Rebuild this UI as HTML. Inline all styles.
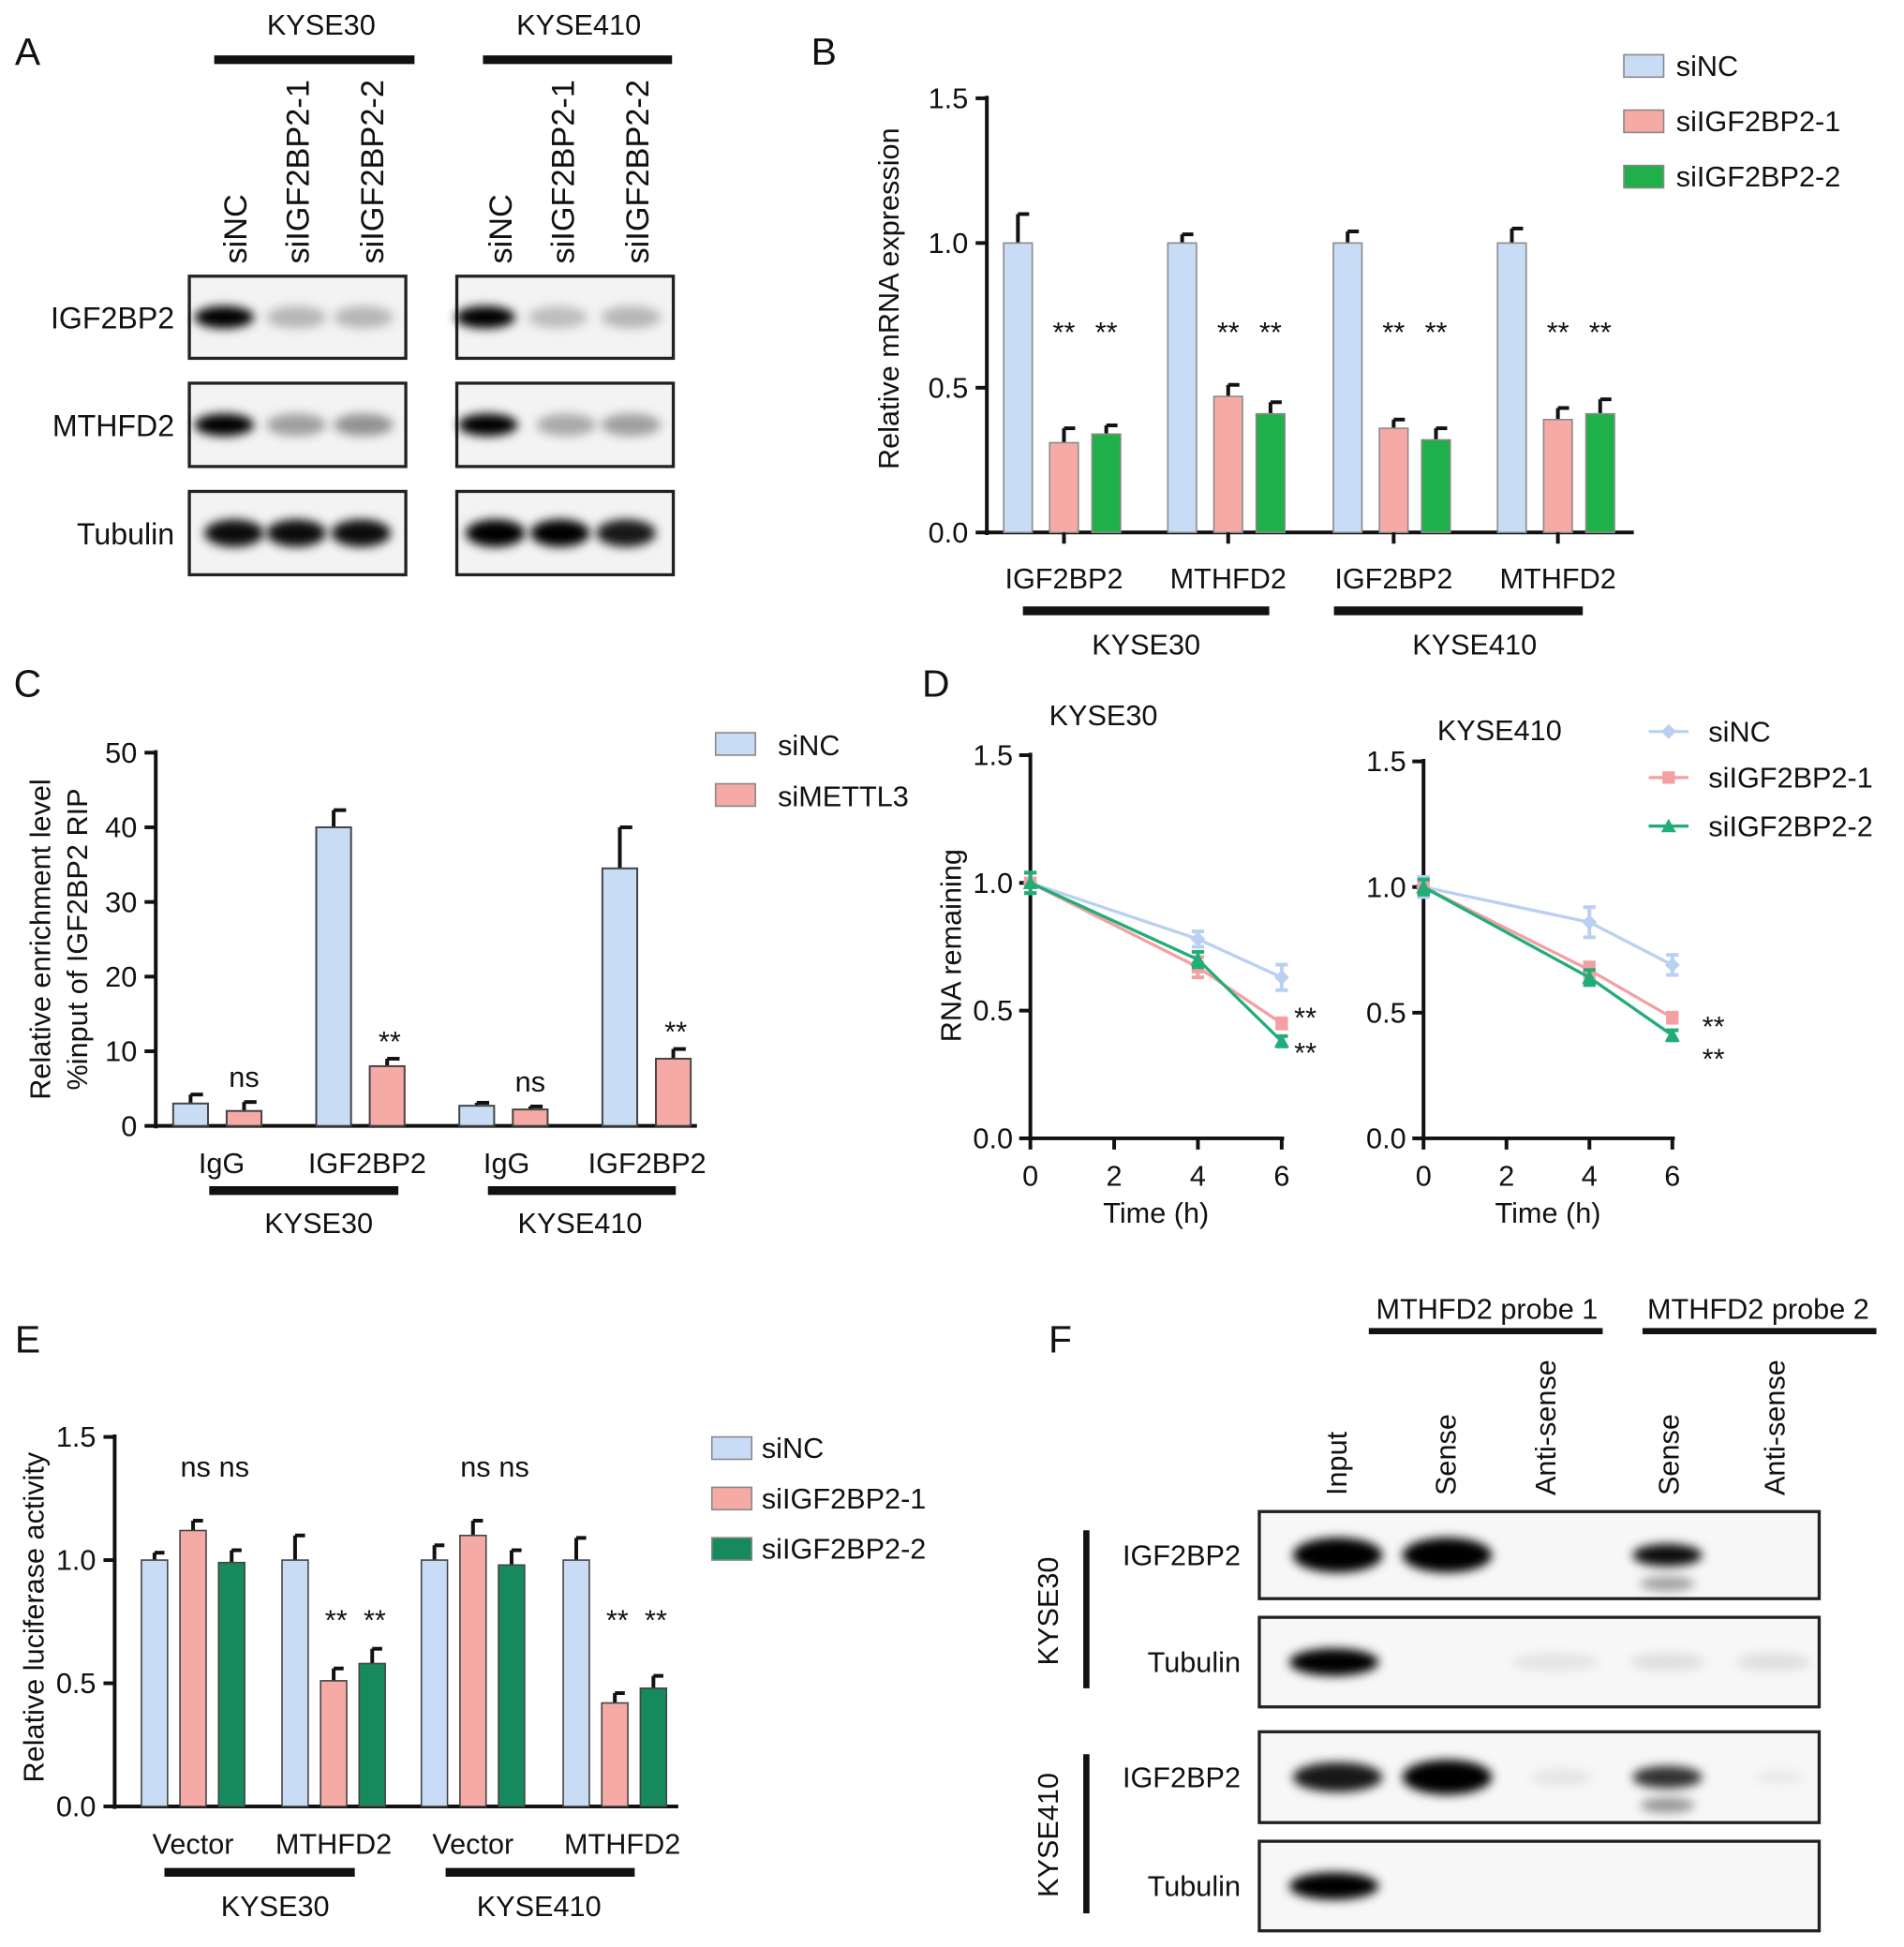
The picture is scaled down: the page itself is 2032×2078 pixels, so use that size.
<!DOCTYPE html>
<html><head><meta charset="utf-8"><style>
html,body{margin:0;padding:0;background:#fff;}
svg{display:block;font-family:"Liberation Sans",Arial,sans-serif;}
</style></head><body>
<svg id="fig" width="2032" height="2078" viewBox="0 0 1530 1565" xmlns="http://www.w3.org/2000/svg">
<defs>
<filter id="blur" x="-50%" y="-100%" width="200%" height="300%"><feGaussianBlur stdDeviation="4"/></filter>
</defs>
<g id="root"></g>
</svg>
<script>
// ---------- DATA ----------
const bCategories = ["IGF2BP2","MTHFD2","IGF2BP2","MTHFD2"];
const bSeries = ["siNC","siIGF2BP2-1","siIGF2BP2-2"];
const bValues = [[1.0,0.31,0.34],[1.0,0.47,0.41],[1.0,0.36,0.32],[1.0,0.39,0.41]];
const bErrors = [[0.1,0.05,0.03],[0.03,0.04,0.04],[0.04,0.03,0.04],[0.05,0.04,0.05]];
const bTicks = [0,0.5,1.0,1.5];

const cCategories = ["IgG","IGF2BP2","IgG","IGF2BP2"];
const cSeries = ["siNC","siMETTL3"];
const cValues = [[3,2],[40,8],[2.7,2.2],[34.5,9]];
const cErrors = [[1.2,1.2],[2.3,1],[0.4,0.4],[5.5,1.3]];
const cTicks = [0,10,20,30,40,50];
const cMarks = ["ns","**","ns","**"];

const dTimes = [0,4,6];
const dXTicks = [0,2,4,6];
const dYTicks = [0,0.5,1.0,1.5];
const dSeries = ["siNC","siIGF2BP2-1","siIGF2BP2-2"];
const dLeft = [[1.0,0.78,0.63],[1.0,0.67,0.45],[1.0,0.70,0.38]];
const dLeftErr = [[0.04,0.03,0.05],[0.04,0.04,0.02],[0.04,0.03,0.02]];
const dRight = [[1.0,0.86,0.69],[1.0,0.67,0.48],[1.0,0.64,0.41]];
const dRightErr = [[0.04,0.06,0.04],[0.03,0.03,0.02],[0.03,0.03,0.02]];

const eCategories = ["Vector","MTHFD2","Vector","MTHFD2"];
const eSeries = ["siNC","siIGF2BP2-1","siIGF2BP2-2"];
const eValues = [[1.0,1.12,0.99],[1.0,0.51,0.58],[1.0,1.1,0.98],[1.0,0.42,0.48]];
const eErrors = [[0.03,0.04,0.05],[0.1,0.05,0.06],[0.06,0.06,0.06],[0.09,0.04,0.05]];
const eTicks = [0,0.5,1.0,1.5];

// ---------- HELPERS ----------
const NS="http://www.w3.org/2000/svg";
const root=document.getElementById('root');
const FS=1.1;
function mk(tag,attrs,parent){const e=document.createElementNS(NS,tag);for(const k in attrs)e.setAttribute(k,attrs[k]);(parent||root).appendChild(e);return e;}
function txt(x,y,s,size,anchor,parent,rot){const t=mk('text',{x:x,y:y,'font-size':size*FS,'text-anchor':anchor||'middle',fill:'#111'},parent);if(rot)t.setAttribute('transform','rotate('+rot+' '+x+' '+y+')');t.textContent=s;return t;}
function line(x1,y1,x2,y2,w,parent){return mk('line',{x1:x1,y1:y1,x2:x2,y2:y2,stroke:'#111','stroke-width':w||2.5},parent);}
const BLUE='#c8dcf6',PINK='#f6aaa5',GREEN='#20b04a',EGREEN='#168a5c';

// ---------- PANEL A ----------
const gA=mk('g',{});


txt(22,52,'A',28,'middle',gA);
txt(258,28,'KYSE30',21,'middle',gA);txt(465,28,'KYSE410',21,'middle',gA);
line(172,48,333,48,7,gA);line(388,48,540,48,7,gA);
const laneLbl=['siNC','siIGF2BP2-1','siIGF2BP2-2'];
[[198,248,308],[411,461,521]].forEach(xs=>xs.forEach((x,i)=>txt(x,212,laneLbl[i],23.5,'start',gA,-90)));
const rowsA=[['IGF2BP2',222,288],['MTHFD2',308,375],['Tubulin',395,462]];
const bandsA=[
 [[[180,1],[238,0.25],[292,0.25]],[[390,1],[448,0.22],[507,0.25]]],
 [[[180,1],[238,0.35],[292,0.4]],[[392,1],[455,0.3],[507,0.35]]],
 [[[188,0.95],[238,0.95],[290,0.95]],[[398,1],[450,1],[503,0.9]]]];
rowsA.forEach((r,ri)=>{
 txt(140,r[1]+(r[2]-r[1])/2+9,r[0],22,'end',gA);
 [[152,326],[367,541]].forEach((bx,bi)=>{
  mk('rect',{x:bx[0],y:r[1],width:bx[1]-bx[0],height:r[2]-r[1],fill:'#f3f3f3',stroke:'#222','stroke-width':2.5},gA);
  bandsA[ri][bi].forEach(b=>mk('ellipse',{cx:b[0],cy:r[1]+(r[2]-r[1])*0.5,rx:24,ry:ri==2?11:9,fill:'#000','fill-opacity':b[1],filter:'url(#blur)'},gA));
 });
});

// ---------- PANEL B ----------
const gB=mk('g',{});


txt(662,52,'B',28,'middle',gB);
const bY=v=>428-v*(349/1.5);
const bGroupX=[818,950,1083,1215],bOff=[0,37,71],bW=23;
line(793,77,793,430,3,gB);line(792,428,1313,428,3,gB);
bTicks.forEach(t=>{line(784,bY(t),793,bY(t),3,gB);txt(778,bY(t)+8,t.toFixed(1),21,'end',gB);});
txt(722,240,'Relative mRNA expression',21,'middle',gB,-90);
const bCols=[BLUE,PINK,GREEN];
bValues.forEach((grp,gi)=>grp.forEach((v,si)=>{
 const cx=bGroupX[gi]+bOff[si];
 line(cx,bY(v),cx,bY(v+bErrors[gi][si]),3,gB);
 line(cx,bY(v+bErrors[gi][si]),cx+9,bY(v+bErrors[gi][si]),3,gB);
 const r=mk('rect',{x:cx-bW/2,y:bY(v),width:bW,height:428-bY(v),fill:bCols[si],stroke:'#8a8a8a','stroke-width':1.2},gB);
 
 
 if(si>0)txt(cx,275,'**',21,'middle',gB);
}));
bCategories.forEach((c,i)=>{const x=bGroupX[i]+37;line(x,428,x,437,3,gB);txt(x,473,c,21,'middle',gB);});
line(822,491,1020,491,7,gB);line(1072,491,1272,491,7,gB);
txt(921,526,'KYSE30',21,'middle',gB);txt(1185,526,'KYSE410',21,'middle',gB);
bSeries.forEach((s,i)=>{const y=44+i*44.5;
 const r=mk('rect',{x:1305,y:y,width:32,height:18,fill:bCols[i],stroke:'#888','stroke-width':1.2},gB);
 
 txt(1347,y+17,s,21,'start',gB);});

// ---------- PANEL C ----------
const gC=mk('g',{});


txt(22,560,'C',28,'middle',gC);
const cY=v=>905-v*6;
const cX=[[153,196],[268,311],[383,426],[498,541]],cW=28;
line(125,603,125,907,3,gC);line(124,905,560,905,3,gC);
cTicks.forEach(t=>{line(116,cY(t),125,cY(t),3,gC);txt(110,cY(t)+8,String(t),21,'end',gC);});
txt(40,755,'Relative enrichment level',21,'middle',gC,-90);
txt(70,755,'%input of IGF2BP2 RIP',21,'middle',gC,-90);
const cCols=[BLUE,PINK];
cValues.forEach((grp,gi)=>{grp.forEach((v,si)=>{
 const cx=cX[gi][si],e=cErrors[gi][si];
 line(cx,cY(v),cx,cY(v+e),3,gC);line(cx,cY(v+e),cx+10,cY(v+e),3,gC);
 const r=mk('rect',{x:cx-cW/2,y:cY(v),width:cW,height:905-cY(v),fill:cCols[si],stroke:'#444','stroke-width':1.5},gC);
 
 });
 const top=cValues[gi][1]+cErrors[gi][1];
 txt(cX[gi][1]+(cMarks[gi]=='ns'?0:2),cY(top)-(cMarks[gi]=='ns'?12:6),cMarks[gi],21,'middle',gC);
});
[178,295,407,520].forEach((x,i)=>txt(x,943,cCategories[i],21,'middle',gC));
line(168,957,320,957,7,gC);line(392,957,543,957,7,gC);
txt(256,991,'KYSE30',21,'middle',gC);txt(466,991,'KYSE410',21,'middle',gC);
cSeries.forEach((s,i)=>{const y=589+i*41;
 const r=mk('rect',{x:575,y:y,width:32,height:18,fill:cCols[i],stroke:'#888','stroke-width':1.2},gC);
 
 txt(625,y+18,s,21,'start',gC);});

// ---------- PANEL D ----------
const gD=mk('g',{});


txt(752,560,'D',28,'middle',gD);
const dCols=['#b9d0f2','#f4a0a2','#22ad78'];
function drawDecay(ax,data,err,title,titleX,titleY,stars){
 const X=t=>ax.x0+t*(ax.x6-ax.x0)/6, Y=v=>ax.y0-v*(ax.y0-ax.y15)/1.5;
 line(ax.x0,ax.y15-2,ax.x0,ax.y0+1,3,gD);line(ax.x0-1,ax.y0,ax.x6+2,ax.y0,3,gD);
 dYTicks.forEach(t=>{line(ax.x0-9,Y(t),ax.x0,Y(t),3,gD);txt(ax.x0-14,Y(t)+8,t.toFixed(1),21,'end',gD);});
 dXTicks.forEach(t=>{line(X(t),ax.y0,X(t),ax.y0+9,3,gD);txt(X(t),ax.y0+38,String(t),21,'middle',gD);});
 txt((ax.x0+ax.x6)/2,ax.y0+68,'Time (h)',21,'middle',gD);
 txt(titleX,titleY,title,21,'start',gD);
 data.forEach((ser,si)=>{
  const pts=ser.map((v,i)=>X(dTimes[i])+','+Y(v)).join(' ');
  const pl=mk('polyline',{points:pts,fill:'none',stroke:dCols[si],'stroke-width':2.5},gD);
  
  ser.forEach((v,i)=>{const x=X(dTimes[i]),y=Y(v),e=err[si][i];
   mk('line',{x1:x,y1:Y(v-e),x2:x,y2:Y(v+e),stroke:dCols[si],'stroke-width':3},gD);
   mk('line',{x1:x-5,y1:Y(v+e),x2:x+5,y2:Y(v+e),stroke:dCols[si],'stroke-width':3},gD);
   mk('line',{x1:x-5,y1:Y(v-e),x2:x+5,y2:Y(v-e),stroke:dCols[si],'stroke-width':3},gD);
   if(si==0)mk('path',{d:`M${x} ${y-6}L${x+6} ${y}L${x} ${y+6}L${x-6} ${y}Z`,fill:dCols[si]},gD);
   else if(si==1)mk('rect',{x:x-5,y:y-5,width:10,height:10,fill:dCols[si]},gD);
   else mk('path',{d:`M${x} ${y-6}L${x+6} ${y+5}L${x-6} ${y+5}Z`,fill:dCols[si]},gD);
  });
 });
 txt(stars[0],stars[1],'**',21,'start',gD);txt(stars[0],stars[2],'**',21,'start',gD);
}
drawDecay({x0:828,x6:1030,y0:915,y15:607},dLeft,dLeftErr,'KYSE30',843,583,[1040,826,854]);
drawDecay({x0:1144,x6:1344,y0:915,y15:612},dRight,dRightErr,'KYSE410',1155,595,[1368,833,859]);
txt(772,760,'RNA remaining',21,'middle',gD,-90);
dSeries.forEach((s,i)=>{const y=[588,625,664][i];
 const g=mk('g',{},gD);
 mk('line',{x1:1325,y1:y,x2:1357,y2:y,stroke:dCols[i],'stroke-width':2.5},g);
 if(i==0)mk('path',{d:`M1341 ${y-6}L1347 ${y}L1341 ${y+6}L1335 ${y}Z`,fill:dCols[i]},g);
 else if(i==1)mk('rect',{x:1336,y:y-5,width:10,height:10,fill:dCols[i]},g);
 else mk('path',{d:`M1341 ${y-6}L1347 ${y+5}L1335 ${y+5}Z`,fill:dCols[i]},g);
 txt(1373,y+8,s,21,'start',g);});

// ---------- PANEL E ----------
const gE=mk('g',{});


txt(22,1087,'E',28,'middle',gE);
const eY=v=>1452-v*(297/1.5);
const eGX=[124,237,349,463],eOff=[0,31,62],eW=21;
line(92,1153,92,1454,3,gE);line(91,1452,545,1452,3,gE);
eTicks.forEach(t=>{line(83,eY(t),92,eY(t),3,gE);txt(77,eY(t)+8,t.toFixed(1),21,'end',gE);});
txt(35,1300,'Relative luciferase activity',21,'middle',gE,-90);
const eCols=[BLUE,PINK,EGREEN];
eValues.forEach((grp,gi)=>grp.forEach((v,si)=>{
 const cx=eGX[gi]+eOff[si],e=eErrors[gi][si];
 line(cx,eY(v),cx,eY(v+e),3,gE);line(cx,eY(v+e),cx+8,eY(v+e),3,gE);
 const r=mk('rect',{x:cx-eW/2,y:eY(v),width:eW,height:1452-eY(v),fill:eCols[si],stroke:'#444','stroke-width':1.2},gE);
 
 if(si>0)txt(cx+2,gi%2==0?1187:1310,gi%2==0?'ns':'**',21,'middle',gE);
}));
[155,268,380,500].forEach((x,i)=>txt(x,1490,eCategories[i],21,'middle',gE));
line(132,1505,285,1505,7,gE);line(358,1505,510,1505,7,gE);
txt(221,1540,'KYSE30',21,'middle',gE);txt(433,1540,'KYSE410',21,'middle',gE);
eSeries.forEach((s,i)=>{const y=1155+i*40.5;
 const r=mk('rect',{x:572,y:y,width:32,height:18,fill:eCols[i],stroke:'#888','stroke-width':1.2},gE);
 
 txt(612,y+17,s,21,'start',gE);});

// ---------- PANEL F ----------
const gF=mk('g',{});


txt(852,1087,'F',28,'middle',gF);
txt(1195,1060,'MTHFD2 probe 1',21,'middle',gF);txt(1413,1060,'MTHFD2 probe 2',21,'middle',gF);
line(1100,1070,1288,1070,5,gF);line(1320,1070,1508,1070,5,gF);
[['Input',1082],['Sense',1170],['Anti-sense',1250],['Sense',1349],['Anti-sense',1434]].forEach(l=>txt(l[1],1202,l[0],21,'start',gF,-90));
const rowsF=[['IGF2BP2',1215,1285],['Tubulin',1300,1372],['IGF2BP2',1392,1465],['Tubulin',1480,1552]];
const bandsF=[[[1075,1,36,14],[1163,1,36,14],[1340,0.95,28,9]],
 [[1072,1,36,11],[1250,0.08,35,7],[1340,0.1,30,7],[1425,0.1,30,7]],
 [[1075,0.9,36,12],[1163,1,36,14],[1255,0.08,25,6],[1340,0.8,28,9],[1430,0.06,20,5]],
 [[1072,1,36,11]]];
rowsF.forEach((r,ri)=>{
 txt(997,r[1]+(r[2]-r[1])/2+8,r[0],21,'end',gF);
 mk('rect',{x:1012,y:r[1],width:450,height:r[2]-r[1],fill:'#f7f7f7',stroke:'#222','stroke-width':2.5},gF);
 bandsF[ri].forEach(b=>mk('ellipse',{cx:b[0],cy:(r[1]+r[2])/2,rx:b[2],ry:b[3],fill:'#000','fill-opacity':b[1],filter:'url(#blur)'},gF));
});
mk('ellipse',{cx:1340,cy:1273,rx:22,ry:6,fill:'#000','fill-opacity':0.35,filter:'url(#blur)'},gF);
mk('ellipse',{cx:1340,cy:1451,rx:22,ry:6,fill:'#000','fill-opacity':0.4,filter:'url(#blur)'},gF);
line(873,1230,873,1357,5,gF);line(873,1410,873,1538,5,gF);
txt(850,1295,'KYSE30',21,'middle',gF,-90);txt(850,1475,'KYSE410',21,'middle',gF,-90);
</script>
</body></html>
